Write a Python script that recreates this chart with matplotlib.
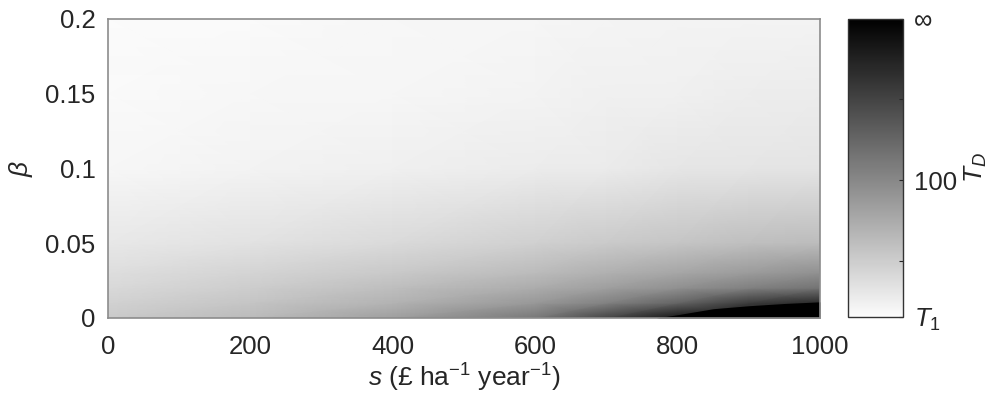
import numpy as np
import matplotlib.pyplot as plt

plt.rcParams['font.family'] = ['Liberation Sans', 'DejaVu Sans']
plt.rcParams['mathtext.fontset'] = 'custom'
plt.rcParams['mathtext.rm'] = 'Liberation Sans'
plt.rcParams['mathtext.it'] = 'Liberation Sans:italic'

# grid
s_vals = [0, 200, 400, 600, 700, 800, 900, 1000]
beta_vals = [0, 0.01, 0.02, 0.03, 0.05, 0.1, 0.15, 0.2]

# T_D estimated from the grey level (rows = beta, cols = s)
td_b000 = [52, 63, 83, 112, 150, 185, 185, 185]
td_b001 = [46, 56, 69, 88, 105, 127, 156, 171]
td_b002 = [41, 50, 61, 74, 83, 94, 106, 116]
td_b003 = [37, 44, 53, 63, 71, 78, 86, 94]
td_b005 = [30, 34, 40, 47, 52, 56, 60, 62]
td_b010 = [19, 22, 24, 27, 28, 31, 32, 33]
td_b015 = [17, 19, 20, 22, 24, 24, 26, 27]
td_b020 = [16, 17, 19, 20, 21, 22, 22, 22]

# edge of the region where T_D is infinite
s_inf = [770, 800, 850, 900, 950, 1000]
beta_inf = [0, 0.0022, 0.0062, 0.0082, 0.0097, 0.0108]

T1 = 15
T_INF = 200
cbar_ticks = [T1, 50, 100, 150, T_INF]
cbar_labels = [r'$T_\mathit{1}$', '', '100', '', '∞']

td = np.array([td_b000, td_b001, td_b002, td_b003,
               td_b005, td_b010, td_b015, td_b020])

cmap = plt.cm.colors.LinearSegmentedColormap.from_list(
    'g', [(0.988, 0.988, 0.988), (0, 0, 0)])

fig = plt.figure(figsize=(9.96, 4.01), dpi=100)
ax = fig.add_axes([0.1084, 0.207, 0.7149, 0.746])
S, B = np.meshgrid(s_vals, beta_vals)
pc = ax.pcolormesh(S, B, td, cmap=cmap, vmin=T1, vmax=T_INF, shading='gouraud')
ax.fill_between(s_inf, 0, beta_inf, color='black', lw=0)

ax.set_xlim(0, 1000)
ax.set_ylim(0, 0.2)
ax.set_xticks([0, 200, 400, 600, 800, 1000])
ax.set_yticks([0, 0.05, 0.1, 0.15, 0.2])
ax.set_yticklabels(['0', '0.05', '0.1', '0.15', '0.2'])
ax.tick_params(length=0, labelsize=18.5, colors='#262626')
ax.tick_params(axis='x', pad=12)
ax.tick_params(axis='y', pad=9)
for sp in ax.spines.values():
    sp.set_color('#8c8c8c')
    sp.set_linewidth(1.2)
ax.set_xlabel(r'$s$ (£ ha$^{-1}$ year$^{-1}$)', fontsize=19, color='#262626', labelpad=2)
ax.set_ylabel(r'$\beta$', fontsize=19, color='#262626', labelpad=7)

cax = fig.add_axes([0.8514, 0.209, 0.055, 0.744])
cb = fig.colorbar(pc, cax=cax)
cb.set_ticks(cbar_ticks)
cb.set_ticklabels(cbar_labels)
cax.tick_params(direction='in', length=3, width=0.8, labelsize=18.5,
                colors='#262626', pad=8)
cb.outline.set_edgecolor('#333333')
cb.outline.set_linewidth(1.0)
cb.set_label('$T_D$', fontsize=19, color='#262626', labelpad=4)

fig.savefig('out.png', dpi=100)
